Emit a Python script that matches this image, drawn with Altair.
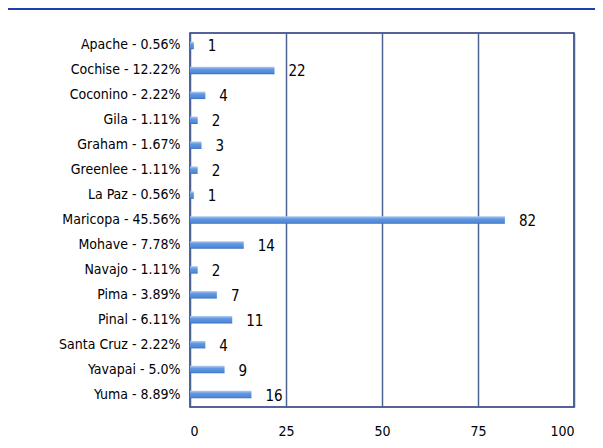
import altair as alt
import pandas as pd

counties = ["Apache", "Cochise", "Coconino", "Gila", "Graham", "Greenlee", "La Paz",
            "Maricopa", "Mohave", "Navajo", "Pima", "Pinal", "Santa Cruz", "Yavapai", "Yuma"]
percents = ["0.56%", "12.22%", "2.22%", "1.11%", "1.67%", "1.11%", "0.56%",
            "45.56%", "7.78%", "1.11%", "3.89%", "6.11%", "2.22%", "5.0%", "8.89%"]
counts = [1, 22, 4, 2, 3, 2, 1, 82, 14, 2, 7, 11, 4, 9, 16]
x_ticks = [0, 25, 50, 75, 100]

labels = [f"{c} - {p}" for c, p in zip(counties, percents)]
df = pd.DataFrame({"label": labels, "count": counts})

FONT = "DejaVu Sans Condensed, Liberation Sans Narrow, Liberation Sans, sans-serif"

W, H = 384, 374
PL, PT, PR, PB = 182, 25, 21, 33

x_enc = alt.X("count:Q", scale=alt.Scale(domain=[0, 100], nice=False),
              axis=alt.Axis(values=x_ticks, title=None, ticks=False, domain=False,
                            grid=True, gridColor="#4f6294", gridWidth=1.5,
                            labelFont=FONT, labelFontSize=14, labelColor="#000000",
                            labelPadding=17))
y_enc = alt.Y("label:N", sort=None,
              scale=alt.Scale(paddingInner=0.7, paddingOuter=0.35),
              axis=alt.Axis(title=None, ticks=False, domain=False,
                            labelFont=FONT, labelFontSize=14, labelColor="#000000",
                            labelPadding=10))

gradient = alt.Gradient(
    gradient="linear",
    stops=[alt.GradientStop(color="#b5cdf0", offset=0),
           alt.GradientStop(color="#6198e2", offset=0.35),
           alt.GradientStop(color="#5089d8", offset=0.8),
           alt.GradientStop(color="#3a6cb8", offset=1)],
    x1=0, x2=0, y1=0, y2=1)

bars = alt.Chart(df).mark_bar(color=gradient).encode(x=x_enc, y=y_enc)

texts = alt.Chart(df).mark_text(align="left", baseline="middle", dx=14, dy=1,
                                font=FONT, fontSize=15, color="#000000").encode(
    x="count:Q", y=alt.Y("label:N", sort=None), text="count:Q")

topline = alt.Chart(df).mark_rule(color="#1f3fb0", strokeWidth=2, clip=False).encode(
    x=alt.value(-PL - 8), x2=alt.value(603 - PL - 8), y=alt.value(-PT + 1))

chart = alt.layer(bars, texts, topline).properties(
    width=W, height=H,
    autosize=alt.AutoSizeParams(type="none"),
    padding={"left": PL, "top": PT, "right": PR, "bottom": PB},
).configure(background="#ffffff").configure_view(stroke="#1f2f7a", strokeWidth=1.5)

chart.save("out.html", embed_options={"renderer": "svg", "actions": False})
